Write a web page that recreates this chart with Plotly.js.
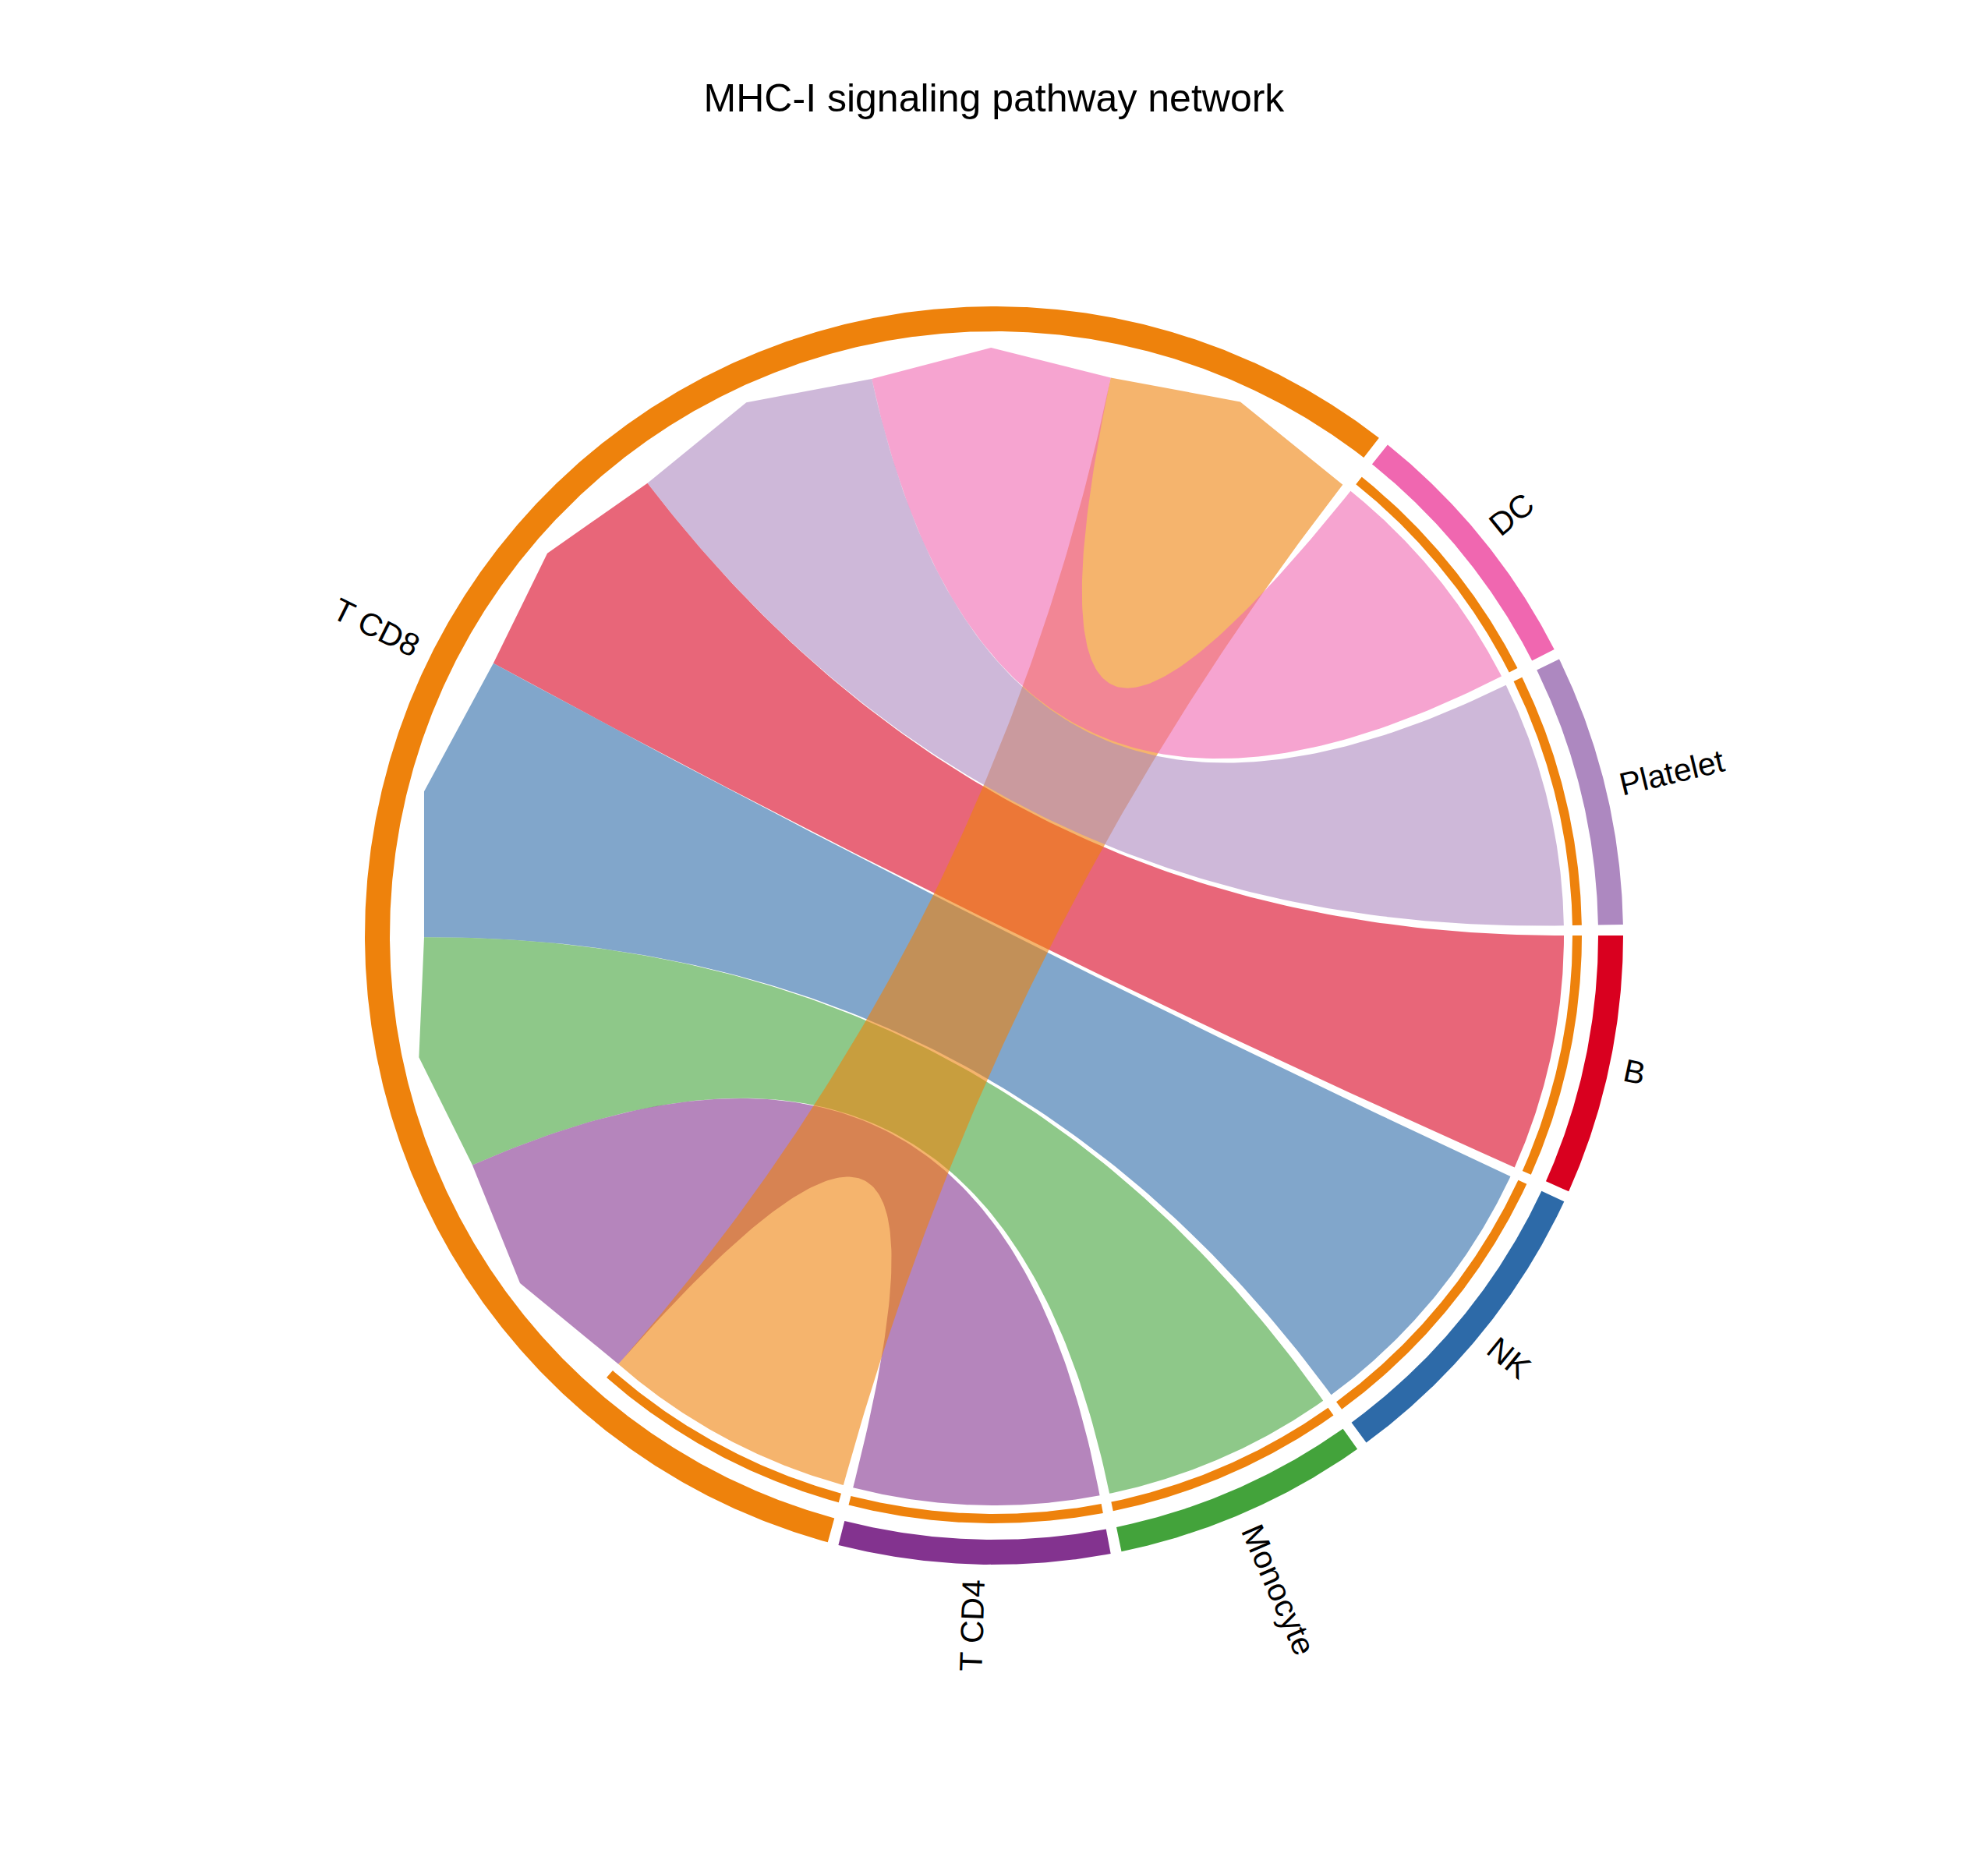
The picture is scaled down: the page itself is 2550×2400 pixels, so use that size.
<!DOCTYPE html>
<html>
<head>
<meta charset="utf-8">
<script src="https://cdn.plot.ly/plotly-3.0.1.min.js"></script>
<style>
  html, body { margin: 0; padding: 0; background: #fff; }
</style>
</head>
<body>
<div id="chart" style="width:2550px;height:2400px;"></div>
<script>
// Cell groups, counter-clockwise starting just above 3 o'clock
var cellTypes = ['Platelet', 'DC', 'T CD8', 'T CD4', 'Monocyte', 'NK', 'B'];
var cellColors = ['#AD88C0', '#F067B0', '#EE820C', '#83338F', '#43A33B', '#2D6AA8', '#D9001F'];

// MHC-I links, in the order they leave the sender arc
var linkSource = ['T CD8', 'T CD8', 'T CD8', 'T CD8', 'T CD8', 'T CD8', 'T CD8'];
var linkTarget = ['T CD8', 'DC', 'Platelet', 'B', 'NK', 'Monocyte', 'T CD4'];
var linkWeight = [0.259, 0.242, 0.2505, 0.240, 0.287, 0.2358, 0.250];

// chords painted later sit on top (by target)
var drawOrder = ['B', 'NK', 'Monocyte', 'T CD4', 'T CD8', 'DC', 'Platelet'];

var chartTitle = 'MHC-I signaling pathway network';

/* ---- geometry (pixels, centre of the circle = 0,0) ---- */
var START_DEG = 1.0, GAP_DEG = 1.0;
var R_OUT = 807, R_OUT_IN = 775;      // outer sector ring
var R_TGT_OUT = 754, R_TGT_IN = 742;  // thin sender-coloured ring at receivers
var R_CHORD = 731, R_PEAK = 754;
var R_LABEL = 826;
var FONT = 'Liberation Sans, Arial, Helvetica, sans-serif';

function colorOf(name) { return cellColors[cellTypes.indexOf(name)]; }

function rgba(hex, a) {
    var r = parseInt(hex.substr(1, 2), 16);
    var g = parseInt(hex.substr(3, 2), 16);
    var b = parseInt(hex.substr(5, 2), 16);
    return 'rgba(' + r + ',' + g + ',' + b + ',' + a + ')';
}

function pt(r, deg) {
    var t = deg * Math.PI / 180;
    return [r * Math.cos(t), r * Math.sin(t)];
}

function arc(r, a1, a2) {
    var n = Math.max(2, Math.ceil(Math.abs(a2 - a1) * 4));
    var out = [];
    for (var i = 0; i <= n; i++) out.push(pt(r, a1 + (a2 - a1) * i / n));
    return out;
}

// quadratic bezier through the centre
function bezier(p0, p2) {
    var out = [];
    for (var i = 0; i <= 120; i++) {
        var t = i / 120, u = 1 - t;
        out.push([u * u * p0[0] + t * t * p2[0], u * u * p0[1] + t * t * p2[1]]);
    }
    return out;
}

/* ---- sector sizes ---- */
var sizes = cellTypes.map(function(c) {
    var s = 0;
    for (var k = 0; k < linkWeight.length; k++) {
        if (linkSource[k] === c) s += linkWeight[k];
        if (linkTarget[k] === c) s += linkWeight[k];
    }
    return s;
});
var total = sizes.reduce(function(a, b) { return a + b; }, 0);
var scale = (360 - GAP_DEG * cellTypes.length) / total;

var secStart = [], secEnd = [];
var a = START_DEG;
cellTypes.forEach(function(c, i) {
    secStart.push(a);
    a += sizes[i] * scale;
    secEnd.push(a);
    a += GAP_DEG;
});

// allot sub-arcs: outgoing links first, then incoming
var cursor = secStart.slice();
var srcArc = [], tgtArc = [];
for (var k = 0; k < linkWeight.length; k++) {
    var i = cellTypes.indexOf(linkSource[k]);
    srcArc[k] = [cursor[i], cursor[i] + linkWeight[k] * scale];
    cursor[i] += linkWeight[k] * scale;
}
for (var k = 0; k < linkWeight.length; k++) {
    var j = cellTypes.indexOf(linkTarget[k]);
    tgtArc[k] = [cursor[j], cursor[j] + linkWeight[k] * scale];
    cursor[j] += linkWeight[k] * scale;
}

function polyTrace(pts, fill) {
    return {
        x: pts.map(function(p) { return p[0]; }),
        y: pts.map(function(p) { return p[1]; }),
        type: 'scatter',
        mode: 'lines',
        fill: 'toself',
        fillcolor: fill,
        line: { width: 0, color: fill },
        hoverinfo: 'skip'
    };
}

var traces = [];

// chords
drawOrder.forEach(function(tname) {
    var k = linkTarget.indexOf(tname);
    var s = srcArc[k], t = tgtArc[k];
    var pA1 = pt(R_CHORD, s[0]), pA2 = pt(R_CHORD, s[1]);
    var pB1 = pt(R_CHORD, t[0]), pB2 = pt(R_CHORD, t[1]);
    var pts = [pA1, pt(R_PEAK, (s[0] + s[1]) / 2), pA2];
    pts = pts.concat(bezier(pA2, pB1));
    pts = pts.concat(arc(R_CHORD, t[0], t[1]));
    pts = pts.concat(bezier(pB2, pA1));
    traces.push(polyTrace(pts, rgba(colorOf(tname), 0.6)));
});

// outer sector rings
cellTypes.forEach(function(c, i) {
    var pts = arc(R_OUT, secStart[i], secEnd[i]).concat(arc(R_OUT_IN, secEnd[i], secStart[i]));
    traces.push(polyTrace(pts, cellColors[i]));
});

// thin ring at each receiving end, coloured by sender
for (var k = 0; k < linkWeight.length; k++) {
    var t = tgtArc[k];
    var pts = arc(R_TGT_OUT, t[0], t[1]).concat(arc(R_TGT_IN, t[1], t[0]));
    traces.push(polyTrace(pts, colorOf(linkSource[k])));
}

/* ---- labels ---- */
var ctx = document.createElement('canvas').getContext('2d');
ctx.font = '41px "Liberation Sans", Arial, sans-serif';

var annotations = cellTypes.map(function(c, i) {
    var mid = (secStart[i] + secEnd[i]) / 2;
    var m = ((mid + 180) % 360 + 360) % 360 - 180;
    var rot = Math.cos(m * Math.PI / 180) >= 0 ? m : m - 180;
    var ang = -rot;
    while (ang > 180) ang -= 360;
    while (ang <= -180) ang += 360;
    var w = ctx.measureText(c).width;
    var p = pt(R_LABEL + w / 2, mid);
    return {
        x: p[0], y: p[1], xref: 'x', yref: 'y',
        text: c, showarrow: false,
        textangle: ang,
        xanchor: 'center', yanchor: 'middle',
        font: { family: FONT, size: 41, color: '#000' }
    };
});

var layout = {
    width: 2550,
    height: 2400,
    margin: { l: 0, r: 0, t: 0, b: 0 },
    paper_bgcolor: '#fff',
    plot_bgcolor: '#fff',
    showlegend: false,
    hovermode: false,
    title: {
        text: chartTitle,
        font: { family: FONT, size: 50, color: '#000' },
        x: 0.5, xanchor: 'center',
        y: 1 - 125 / 2400, yanchor: 'middle'
    },
    xaxis: { range: [-1275, 1275], visible: false, fixedrange: true },
    yaxis: { range: [-1200, 1200], visible: false, fixedrange: true },
    annotations: annotations
};

Plotly.newPlot('chart', traces, layout, { staticPlot: true, displayModeBar: false });
</script>
</body>
</html>
